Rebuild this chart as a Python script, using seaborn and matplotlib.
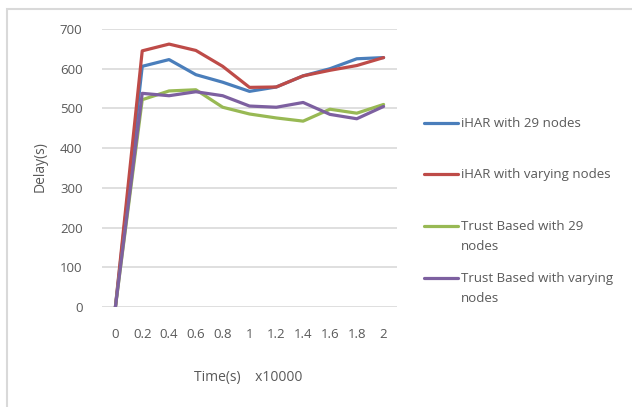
import matplotlib
matplotlib.use("Agg")
import matplotlib.pyplot as plt
from matplotlib.lines import Line2D
from matplotlib.patches import Rectangle
import seaborn as sns
import pandas as pd

# Time in units of 10000 s
time_labels = ["0", "0.2", "0.4", "0.6", "0.8", "1", "1.2", "1.4", "1.6", "1.8", "2"]

ihar_29 = [0, 606, 623, 585, 566, 543, 554, 582, 600, 625, 628]
ihar_varying = [0, 645, 662, 646, 606, 553, 554, 582, 596, 608, 628]
trust_29 = [0, 522, 544, 547, 503, 486, 476, 468, 498, 488, 510]
trust_varying = [0, 538, 532, 542, 532, 506, 503, 515, 485, 474, 505]

series_names = [
    "iHAR with 29 nodes",
    "iHAR with varying nodes",
    "Trust Based with 29\nnodes",
    "Trust Based with varying\nnodes",
]
series_values = [ihar_29, ihar_varying, trust_29, trust_varying]
colors = ["#4A7EBB", "#BE4B48", "#98B954", "#7D60A0"]

rows = []
for name, vals in zip(series_names, series_values):
    for i, v in enumerate(vals):
        rows.append({"pos": i, "time": time_labels[i], "delay": v, "series": name})
df = pd.DataFrame(rows)

sns.set_theme(style="white")
plt.rcParams["font.family"] = ["Open Sans", "DejaVu Sans"]
text_color = "#595959"
grid_color = "#D9D9D9"

fig = plt.figure(figsize=(6.32, 4.07), dpi=100)
W, H = 632, 407
ax = fig.add_axes([102 / W, 1 - 307 / H, 295 / W, 278 / H])

sns.lineplot(
    data=df, x="pos", y="delay", hue="series", hue_order=series_names,
    palette=colors, sort=False, legend=False, linewidth=2.3, ax=ax,
)

ax.set_xlim(-0.5, len(time_labels) - 0.5)
ax.set_ylim(0, 700)
ax.set_yticks(range(0, 701, 100))
ax.set_xticks(range(len(time_labels)))
ax.set_xticklabels(time_labels)
ax.yaxis.grid(True, color=grid_color, linewidth=1.2)
ax.xaxis.grid(False)
ax.set_axisbelow(True)
for s in ax.spines.values():
    s.set_visible(False)
ax.tick_params(axis="both", length=0, labelsize=9.5, colors=text_color)
ax.tick_params(axis="y", pad=14)
ax.tick_params(axis="x", pad=15)
ax.set_xlabel("")
ax.set_ylabel("")

fig.text(40 / W, 1 - 167 / H, "Delay(s)", rotation=90, ha="center", va="center",
         fontsize=10, color=text_color)
fig.text(248 / W, 1 - 378 / H, "Time(s)    x10000", ha="center", va="center",
         fontsize=10, color=text_color)

# Legend entries
legend_rows = [123, 174, 226, 278]
for name, color, y in zip(series_names, colors, legend_rows):
    fig.add_artist(Line2D([424 / W, 458 / W], [1 - y / H, 1 - y / H],
                          color=color, linewidth=2.3, transform=fig.transFigure))
    fig.text(461 / W, 1 - (y - 6) / H, name, ha="left", va="top",
             fontsize=9.5, color=text_color, linespacing=1.65)

# Chart area border
fig.add_artist(Rectangle((6.5 / W, -0.05), 1.2, 1 - 8.5 / H + 0.05,
                         transform=fig.transFigure, fill=False,
                         edgecolor=grid_color, linewidth=1.5))

fig.savefig("out.png", dpi=100)
